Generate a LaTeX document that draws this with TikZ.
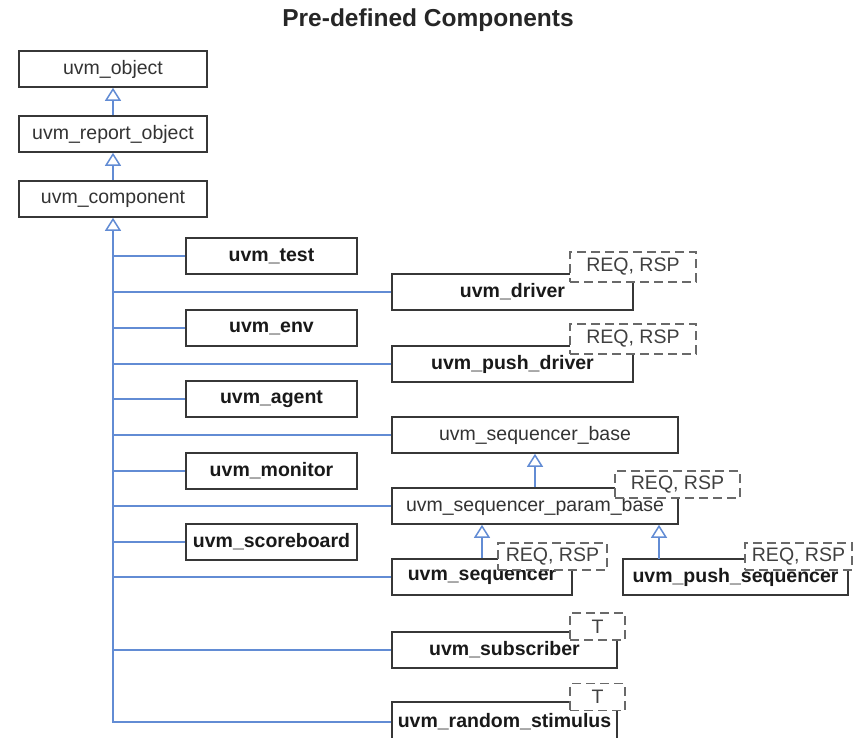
\documentclass[tikz,border=0pt]{standalone}
\usepackage{fontspec}
\setmainfont{Liberation Sans}
\usetikzlibrary{arrows.meta}
\definecolor{linkblue}{RGB}{98,140,212}
\definecolor{boxgray}{RGB}{55,55,55}
\definecolor{tmplgray}{RGB}{105,105,105}

\begin{document}
\begin{tikzpicture}[x=1pt,y=1pt,
  every node/.style={inner sep=0pt},
  cls/.style={draw=boxgray,line width=1.6pt,fill=white,minimum height=36pt,
    text=black!80,font=\fontsize{19.5}{22}\selectfont},
  ucls/.style={cls,text=black!90,font=\fontsize{19.5}{22}\selectfont\bfseries},
  tmpl/.style={draw=tmplgray,dash pattern=on 9pt off 5pt,line width=1.6pt,
    fill=white,minimum height=27pt,text=black!75,font=\fontsize{19.5}{22}\selectfont},
  link/.style={draw=linkblue,line width=1.5pt},
  inh/.style={link,-{Triangle[open,length=13pt,width=16pt,fill=white]}}]
\useasboundingbox (0,0) rectangle (854,-737);
\node [font=\fontsize{24.5}{28}\selectfont\bfseries,text=black!85] (title) at (428,-20) {Pre-defined Components};
% base classes
\node [cls,minimum width=188pt] (obj) at (113,-69) {uvm\_object};
\node [cls,minimum width=188pt] (rep) at (113,-134) {uvm\_report\_object};
\node [cls,minimum width=188pt] (comp) at (113,-199) {uvm\_component};
% left column
\node [ucls,minimum width=171pt] (test) at (271.5,-256) {uvm\_test};
\node [ucls,minimum width=171pt] (env) at (271.5,-328) {uvm\_env};
\node [ucls,minimum width=171pt] (agent) at (271.5,-399) {uvm\_agent};
\node [ucls,minimum width=171pt] (mon) at (271.5,-471) {uvm\_monitor};
\node [ucls,minimum width=171pt] (sb) at (271.5,-542) {uvm\_scoreboard};
% right column
\node [ucls,minimum width=241pt] (drv) at (512.5,-292) {uvm\_driver};
\node [ucls,minimum width=241pt] (pdrv) at (512.5,-364) {uvm\_push\_driver};
\node [cls,minimum width=286pt] (sqbase) at (535,-435) {uvm\_sequencer\_base};
\node [cls,minimum width=286pt] (param) at (535,-506) {uvm\_sequencer\_param\_base};
\node [ucls,minimum width=180pt] (sqr) at (482,-577) {uvm\_sequencer};
\node [ucls,minimum width=225pt] (psqr) at (735.5,-577) {uvm\_push\_sequencer};
\node [ucls,minimum width=225pt] (sub) at (504.5,-650) {uvm\_subscriber};
\node [ucls,minimum width=225pt,minimum height=40pt] (stim) at (504.5,-722) {uvm\_random\_stimulus};
% template parameters
\node [tmpl,minimum width=126pt,minimum height=30pt] (drvT) at (633,-267) {REQ, RSP};
\node [tmpl,minimum width=126pt,minimum height=30pt] (pdrvT) at (633,-339) {REQ, RSP};
\node [tmpl,minimum width=125pt] (paramT) at (677.5,-484.5) {REQ, RSP};
\node [tmpl,minimum width=109pt] (sqrT) at (552.5,-556.5) {REQ, RSP};
\node [tmpl,minimum width=107pt] (psqrT) at (798.5,-556.5) {REQ, RSP};
\node [tmpl,minimum width=55pt] (subT) at (597.5,-626.5) {T};
\node [tmpl,minimum width=55pt] (stimT) at (597.5,-697) {T};
% inheritance
\draw [inh] (rep) -- (obj);
\draw [inh] (comp) -- (rep);
\draw [inh] (stim.west) -| (comp.south);
\foreach \n in {test,drv,env,pdrv,agent,sqbase,mon,param,sb,sqr,sub}
  \draw [link] (\n.west) -- (\n.west -| comp.south);
\draw [inh] (param) -- (sqbase);
\draw [inh] (sqr) -- (sqr |- param.south);
\coordinate (psqrin) at (659,-559);
\draw [inh] (psqrin) -- (psqrin |- param.south);
\end{tikzpicture}
\end{document}
